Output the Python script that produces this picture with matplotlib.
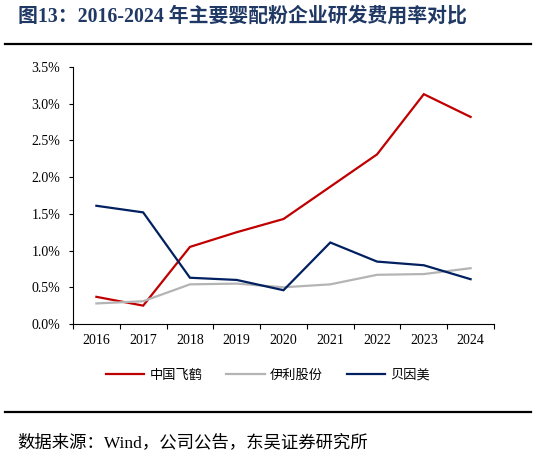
import matplotlib.pyplot as plt
from matplotlib.lines import Line2D

years = ["2016", "2017", "2018", "2019", "2020", "2021", "2022", "2023", "2024"]
feihe = [0.37, 0.25, 1.05, 1.25, 1.43, 1.87, 2.31, 3.13, 2.82]
yili = [0.28, 0.31, 0.54, 0.55, 0.50, 0.54, 0.67, 0.68, 0.76]
beingmate = [1.61, 1.52, 0.63, 0.60, 0.46, 1.11, 0.85, 0.80, 0.61]
names = ["中国飞鹤", "伊利股份", "贝因美"]
colors = ["#C00000", "#B4B4B4", "#002060"]
yticks = [0.0, 0.5, 1.0, 1.5, 2.0, 2.5, 3.0, 3.5]

serif = ["Liberation Serif", "Noto Sans CJK SC"]
cjk = ["Noto Sans CJK SC", "DejaVu Sans"]

W, H = 536, 458
fig = plt.figure(figsize=(W / 100, H / 100), dpi=100)
ax = fig.add_axes([73 / W, (H - 324) / H, (494 - 73) / W, (324 - 67) / H])

x = list(range(len(years)))
for vals, c, n in zip([feihe, yili, beingmate], colors, names):
    ax.plot(x, vals, color=c, lw=1.6, label=n, solid_joinstyle="miter")

ax.set_xlim(-0.5, len(years) - 0.5)
ax.set_ylim(0, 3.5)
ax.set_yticks(yticks)
ax.set_yticklabels([f"{v:.1f}%" for v in yticks], family=serif, fontsize=10)
ax.set_xticks([i - 0.5 for i in range(len(years) + 1)])
ax.set_xticklabels([])
ax.set_xticks(x, minor=True)
ax.set_xticklabels(years, minor=True, family=serif, fontsize=10)
ax.tick_params(axis="x", which="major", direction="out", length=3.5, width=0.8)
ax.tick_params(axis="x", which="minor", length=0, pad=7.5)
ax.tick_params(axis="y", direction="out", length=3, width=0.8, pad=6)
for s in ["top", "right"]:
    ax.spines[s].set_visible(False)
for s in ["left", "bottom"]:
    ax.spines[s].set_linewidth(0.8)

handles = [Line2D([], [], color=c, lw=1.6) for c in colors]
fig.legend(handles, names, loc="center", bbox_to_anchor=(0.5, 1 - 375 / H),
           ncol=3, frameon=False, prop={"family": cjk, "size": 9.5},
           handlelength=2.9, handletextpad=0.4, columnspacing=1.8)

fig.text(18 / W, 1 - 17 / H, "图13：2016-2024 年主要婴配粉企业研发费用率对比",
         family=serif, fontsize=14.3, fontweight="bold", color="#1F3864",
         va="center", ha="left")
fig.add_artist(Line2D([5 / W, 531 / W], [1 - 44 / H, 1 - 44 / H], color="black", lw=1.6))
fig.add_artist(Line2D([5 / W, 531 / W], [1 - 412 / H, 1 - 412 / H], color="black", lw=1.6))
fig.text(17 / W, 1 - 443 / H, "数据来源：Wind，公司公告，东吴证券研究所",
         family=serif, fontsize=12.5, va="center", ha="left")

fig.savefig("out.png", dpi=100)
